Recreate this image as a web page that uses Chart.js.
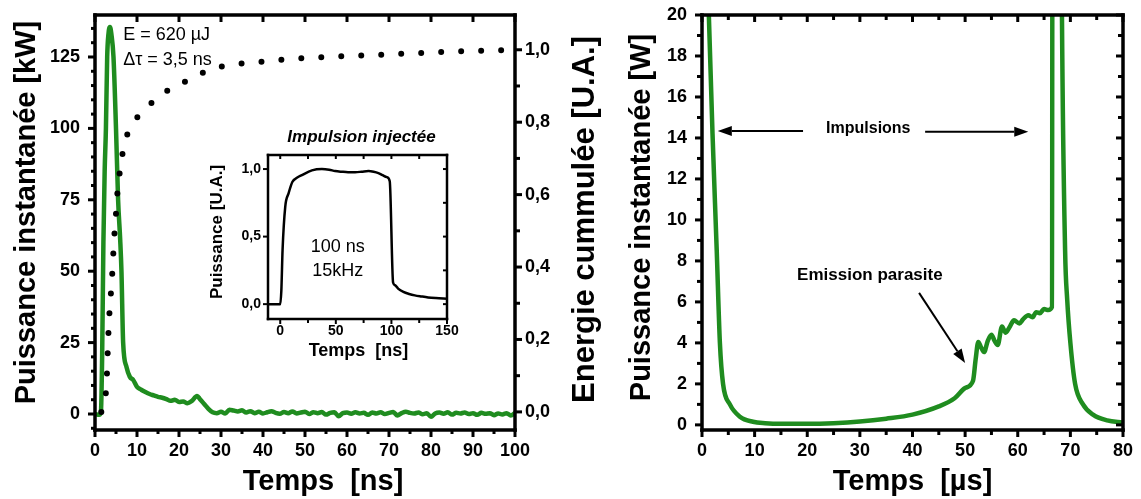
<!DOCTYPE html>
<html>
<head>
<meta charset="utf-8">
<script src="https://cdn.jsdelivr.net/npm/chart.js@4.4.1/dist/chart.umd.min.js"></script>
<style>
  html, body { margin: 0; padding: 0; background: #fff; }
  #page { position: relative; width: 1141px; height: 499px; }
  .zone { position: absolute; }
</style>
</head>
<body>
<div id="page">
  <div class="zone" style="left:0;top:0;width:620px;height:499px"><canvas id="cPic"></canvas></div>
  <div class="zone" style="left:620px;top:0;width:521px;height:499px"><canvas id="cLong"></canvas></div>
  <div class="zone" style="left:195px;top:100px;width:275px;height:270px"><canvas id="cInj"></canvas></div>
</div>
<script>
const FONTE = '"Liberation Sans", Arial, Helvetica, sans-serif';
const VERT = '#1f8c1f';

// Impulsion amplifiée : puissance crête (kW) en fonction du temps (ns)
const picTemps = [0, 1, 1.4, 1.7, 2.0, 2.3, 2.6, 2.9, 3.2, 3.57, 3.9, 4.4, 5.0, 5.5, 6.0, 6.3, 6.7, 7.5, 8.3, 9.1,
  10, 11, 12, 13, 14, 15, 16, 17, 18, 19, 20, 21, 22, 23, 24.3, 25, 26, 27, 28, 29, 30, 31, 32, 33, 34, 35,
  36, 37, 38, 39, 40, 41, 42, 43, 44, 45, 46, 47, 48, 49, 50, 51, 52, 53, 54, 55, 56, 57, 58, 59, 60,
  61, 62, 63, 64, 65, 66, 67, 68, 69, 70, 71, 72, 73, 74, 75, 76, 77, 78, 79, 80,
  81, 82, 83, 84, 85, 86, 87, 88, 89, 90, 91, 92, 93, 94, 95, 96, 97, 98, 99, 100];
const picPuissance = [0, -0.3, 0.5, 20, 60, 85, 100, 125, 133, 135.5, 133, 125, 100, 75, 61, 50, 25, 16.5, 13, 11.9,
  9.5, 8.5, 7.7, 7, 6.5, 6, 5.7, 5.2, 4.6, 5, 4.2, 4.4, 3.8, 4.5, 6.3, 5.2, 3.5, 1.8, 0.6, 0.3, 0.8, 0.2, 1.5, 1.2, 0.9, 1.3,
  0.5, 1.0, 0.3, 0.8, 0.2, 0.6, 1.0, 0.4, 0.1, 0.7, 0.3, 0.9, 0.2, 0.5, 0.8, 0.0, 0.6, 0.3, 0.7, -0.2, 0.4, 0.6, -0.8, 0.3, 0.5,
  0.1, 0.6, 0.2, 0.4, -0.3, 0.5, 0.2, 0.6, 0.0, 0.4, 0.7, -0.5, 0.3, 0.8, 0.4, 0.2, 0.5, -0.1, 0.3, -1.0,
  0.2, 0.5, 0.1, 0.6, -0.2, 0.4, 0.2, 0.5, 0.0, 0.3, -0.3, 0.4, 0.1, 0.3, -0.4, 0.2, -0.2, 0.3, -0.5, 0.4];

// Energie cumulée (U.A.)
const energieTemps = [1.5, 2.2, 2.6, 2.9, 3.1, 3.4, 3.8, 4.2, 4.5, 4.9, 5.3, 6.0, 7.0, 9.3, 12.3, 16.3, 19.5, 22.8, 27.4, 33.6,
  40, 46.6, 55, 65, 75, 85, 100];
const energieCumul = [0, 0.01, 0.055, 0.12, 0.19, 0.265, 0.33, 0.40, 0.47, 0.53, 0.60, 0.67, 0.74, 0.80, 0.84, 0.88, 0.90, 0.92, 0.945, 0.96,
  0.967, 0.975, 0.98, 0.985, 0.99, 0.995, 1.0];

// Impulsion injectée (encart)
const injTemps = [-11, 0, 1, 2.1, 4.5, 7.5, 11, 15, 19.5, 28.5, 37.5, 44, 49.4, 55.4, 61, 67.4, 73, 79.4, 84, 88.3,
  92, 95.9, 98.5, 101.5, 103.3, 106, 110.8, 116, 121, 127, 133, 140, 150];
const injPuissance = [0, 0, 0.1, 0.40, 0.72, 0.82, 0.906, 0.935, 0.955, 0.99, 1.0, 0.995, 0.985, 0.98, 0.977, 0.977, 0.98, 0.985, 0.98, 0.97,
  0.955, 0.94, 0.91, 0.16, 0.14, 0.115, 0.09, 0.075, 0.065, 0.057, 0.05, 0.045, 0.04];

// Mesure sur 80 µs : puissance (W) entre deux impulsions
const longTemps = [0, 1.3, 2.0, 2.8, 3.4, 4.0, 5.3, 7.2, 9.7, 12, 15, 20, 25, 30, 35, 40, 45, 48, 50, 51.5,
  52.0, 52.5, 53.0, 53.6, 54.3, 55.0, 55.6, 56.2, 57.0, 57.7, 58.4, 59.3, 60.3, 61.0, 62.0, 62.8, 63.5, 64.2, 65.0, 65.8,
  66.5, 66.7, 67.6, 68.4, 69.0, 69.4, 70.0, 70.9, 72.4, 74.3, 77, 80];
const longPuissance = [30, 20, 14.2, 8.5, 4.0, 2.0, 1.0, 0.4, 0.15, 0.08, 0.05, 0.05, 0.08, 0.16, 0.3, 0.5, 0.9, 1.3, 1.8, 2.15,
  3.2, 4.05, 3.8, 3.55, 4.1, 4.4, 4.1, 3.9, 4.8, 4.5, 4.75, 5.1, 4.95, 5.15, 5.35, 5.25, 5.5, 5.45, 5.65, 5.6,
  5.75, 60, 60, 20, 8.5, 6.1, 4.0, 2.0, 1.0, 0.5, 0.22, 0.12];

const points = (xs, ys) => xs.map((x, i) => ({x: x, y: ys[i]}));
const virgule = v => v.toFixed(1).replace('.', ',');

function trait(ctx, x0, y0, x1, y1, w) {
  ctx.beginPath();
  ctx.lineWidth = w;
  ctx.moveTo(x0, y0);
  ctx.lineTo(x1, y1);
  ctx.stroke();
}

// titres, textes, flèches, graduations et cadre
function cadre(cfg) {
  return {
    id: 'cadre',
    afterDraw(chart) {
      const ctx = chart.ctx;
      const a = chart.chartArea;
      ctx.save();
      ctx.setLineDash([]);
      ctx.fillStyle = '#000';
      ctx.strokeStyle = '#000';
      ctx.lineCap = 'butt';

      ctx.textBaseline = 'middle';
      cfg.titres.forEach(t => {
        const cx = (a.left + a.right) / 2, cy = (a.top + a.bottom) / 2;
        ctx.font = t.font;
        ctx.textAlign = 'center';
        ctx.save();
        if (t.ancre === 'bas') ctx.translate(cx + t.glisse, a.bottom + t.decal);
        else if (t.ancre === 'haut') ctx.translate(cx + t.glisse, a.top - t.decal);
        else if (t.ancre === 'gauche') { ctx.translate(a.left - t.decal, cy + t.glisse); ctx.rotate(-Math.PI / 2); }
        else { ctx.translate(a.right + t.decal, cy + t.glisse); ctx.rotate(-Math.PI / 2); }
        ctx.fillText(t.texte, 0, 0);
        ctx.restore();
      });

      cfg.textes.forEach(t => {
        ctx.font = t.font;
        ctx.textAlign = t.align || 'center';
        ctx.fillText(t.texte, chart.scales.x.getPixelForValue(t.x), chart.scales.y.getPixelForValue(t.y));
      });

      (cfg.fleches || []).forEach(f => {
        const x0 = chart.scales.x.getPixelForValue(f.x0), y0 = chart.scales.y.getPixelForValue(f.y0);
        const x1 = chart.scales.x.getPixelForValue(f.x1), y1 = chart.scales.y.getPixelForValue(f.y1);
        const ang = Math.atan2(y1 - y0, x1 - x0);
        const lt = 14, lg = 5;
        const bx = x1 - lt * Math.cos(ang), by = y1 - lt * Math.sin(ang);
        trait(ctx, x0, y0, bx, by, 2);
        ctx.beginPath();
        ctx.moveTo(x1, y1);
        ctx.lineTo(bx + lg * Math.sin(ang), by - lg * Math.cos(ang));
        ctx.lineTo(bx - lg * Math.sin(ang), by + lg * Math.cos(ang));
        ctx.closePath();
        ctx.fill();
      });

      cfg.graduations.forEach(g => {
        const sc = chart.scales[g.axe];
        const horiz = g.cote === 'top' || g.cote === 'bottom';
        const bord = a[g.cote];
        const dehors = (g.cote === 'left' || g.cote === 'top') ? -1 : 1;
        const sens = g.dedans ? -dehors : dehors;
        const n0 = Math.ceil(sc.min / g.pas - 1e-6), n1 = Math.floor(sc.max / g.pas + 1e-6);
        for (let n = n0; n <= n1; n++) {
          const v = n * g.pas;
          const majeure = !g.majeur || Math.abs(v / g.majeur - Math.round(v / g.majeur)) < 1e-6;
          const l = majeure ? g.long : g.court;
          const p = sc.getPixelForValue(v);
          if (horiz) trait(ctx, p, bord, p, bord + sens * l, cfg.epaisseurTick);
          else trait(ctx, bord, p, bord + sens * l, p, cfg.epaisseurTick);
        }
      });

      ctx.lineCap = 'square';
      trait(ctx, a.left, a.top, a.right, a.top, cfg.epaisseur);
      trait(ctx, a.left, a.bottom, a.right, a.bottom, cfg.epaisseur);
      trait(ctx, a.left, a.top, a.left, a.bottom, cfg.epaisseur);
      trait(ctx, a.right, a.top, a.right, a.bottom, cfg.epaisseur);
      ctx.restore();
    }
  };
}

// tailles d'axes fixées pour placer la zone de tracé
const largeur = w => s => { s.width = w; s.paddingTop = 0; s.paddingBottom = 0; };
const hauteur = h => s => { s.height = h; s.paddingLeft = 0; s.paddingRight = 0; };
const sansGrille = {display: false, drawTicks: false};
const gras = size => ({family: FONTE, size: size, weight: 'bold'});
const base = {
  responsive: true,
  maintainAspectRatio: false,
  animation: false,
  events: [],
  elements: {point: {radius: 0}},
};

// ---------- panneau de gauche ----------
new Chart(document.getElementById('cPic'), {
  type: 'line',
  data: {
    datasets: [
      {
        data: points(energieTemps, energieCumul),
        yAxisID: 'y2',
        borderColor: '#000',
        borderWidth: 6,
        borderDash: [0, 20],
        borderCapStyle: 'round',
        cubicInterpolationMode: 'monotone',
      },
      {
        data: points(picTemps, picPuissance),
        yAxisID: 'y',
        borderColor: VERT,
        borderWidth: 4.5,
        cubicInterpolationMode: 'monotone',
      },
    ],
  },
  options: {
    ...base,
    layout: {padding: {top: 15, left: 0, right: 0, bottom: 0}},
    scales: {
      x: {
        type: 'linear', min: 0, max: 100,
        grid: sansGrille, border: {display: false},
        ticks: {stepSize: 10, color: '#000', font: gras(18), padding: 10, maxRotation: 0},
        afterFit: hauteur(69),
      },
      y: {
        position: 'left', min: -5.6, max: 139.7,
        grid: sansGrille, border: {display: false},
        ticks: {stepSize: 25, includeBounds: false, color: '#000', font: gras(18), padding: 15},
        afterFit: largeur(95),
      },
      y2: {
        position: 'right', min: -0.05, max: 1.096,
        grid: sansGrille, border: {display: false},
        ticks: {stepSize: 0.2, includeBounds: false, color: '#000', font: gras(18), padding: 10, callback: virgule},
        afterFit: largeur(105),
      },
    },
    plugins: {legend: {display: false}, tooltip: {enabled: false}},
  },
  plugins: [cadre({
    epaisseur: 3.5, epaisseurTick: 3,
    graduations: [
      {axe: 'y', cote: 'left', pas: 5, majeur: 25, long: 7, court: 4},
      {axe: 'x', cote: 'bottom', pas: 5, majeur: 10, long: 7, court: 4},
      {axe: 'x', cote: 'top', pas: 10, dedans: true, long: 7, court: 4},
      {axe: 'y2', cote: 'right', pas: 0.1, majeur: 0.2, long: 7, court: 5},
    ],
    titres: [
      {texte: 'Temps  [ns]', font: 'bold 29px ' + FONTE, ancre: 'bas', decal: 52, glisse: 18},
      {texte: 'Puissance instantanée [kW]', font: 'bold 29px ' + FONTE, ancre: 'gauche', decal: 68, glisse: -10},
      {texte: 'Energie cummulée [U.A.]', font: 'bold 31px ' + FONTE, ancre: 'droite', decal: 70, glisse: -3},
    ],
    textes: [
      {texte: 'E = 620 µJ', x: 6.7, y: 132.7, align: 'left', font: '18px ' + FONTE},
      {texte: 'Δτ = 3,5 ns', x: 6.7, y: 124, align: 'left', font: '18px ' + FONTE},
    ],
  })],
});

// ---------- encart : impulsion injectée ----------
new Chart(document.getElementById('cInj'), {
  type: 'line',
  data: {
    datasets: [{
      data: points(injTemps, injPuissance),
      borderColor: '#000',
      borderWidth: 2.5,
      cubicInterpolationMode: 'monotone',
    }],
  },
  options: {
    ...base,
    layout: {padding: {top: 55, left: 0, right: 23, bottom: 0}},
    scales: {
      x: {
        type: 'linear', min: -11, max: 150,
        grid: sansGrille, border: {display: false},
        ticks: {stepSize: 50, includeBounds: false, color: '#000', font: gras(14), padding: 4, maxRotation: 0},
        afterFit: hauteur(51),
      },
      y: {
        min: -0.11, max: 1.104,
        grid: sansGrille, border: {display: false},
        ticks: {stepSize: 0.5, includeBounds: false, color: '#000', font: gras(14), padding: 7, callback: virgule},
        afterFit: largeur(73),
      },
    },
    plugins: {legend: {display: false}, tooltip: {enabled: false}},
  },
  plugins: [cadre({
    epaisseur: 2.5, epaisseurTick: 2,
    graduations: [
      {axe: 'y', cote: 'left', pas: 0.5, long: 5, court: 3},
      {axe: 'y', cote: 'right', pas: 0.25, dedans: true, long: 4, court: 4},
      {axe: 'x', cote: 'bottom', pas: 25, majeur: 50, long: 5, court: 4},
      {axe: 'x', cote: 'top', pas: 25, dedans: true, long: 4, court: 4},
    ],
    titres: [
      {texte: 'Impulsion injectée', font: 'italic bold 17px ' + FONTE, ancre: 'haut', decal: 18, glisse: 4},
      {texte: 'Temps  [ns]', font: 'bold 18px ' + FONTE, ancre: 'bas', decal: 32, glisse: 1},
      {texte: 'Puissance [U.A.]', font: 'bold 17px ' + FONTE, ancre: 'gauche', decal: 51, glisse: -5},
    ],
    textes: [
      {texte: '100 ns', x: 51.7, y: 0.422, font: '18px ' + FONTE},
      {texte: '15kHz', x: 51.7, y: 0.248, font: '18px ' + FONTE},
    ],
  })],
});

// ---------- panneau de droite ----------
new Chart(document.getElementById('cLong'), {
  type: 'line',
  data: {
    datasets: [{
      data: points(longTemps, longPuissance),
      borderColor: VERT,
      borderWidth: 4.5,
      cubicInterpolationMode: 'monotone',
    }],
  },
  options: {
    ...base,
    layout: {padding: {top: 15, left: 0, right: 18, bottom: 0}},
    scales: {
      x: {
        type: 'linear', min: 0, max: 80,
        grid: sansGrille, border: {display: false},
        ticks: {stepSize: 10, color: '#000', font: gras(18), padding: 10, maxRotation: 0},
        afterFit: hauteur(69),
      },
      y: {
        min: -0.25, max: 20,
        grid: sansGrille, border: {display: false},
        ticks: {stepSize: 2, includeBounds: false, color: '#000', font: gras(18), padding: 15},
        afterFit: largeur(82),
      },
    },
    plugins: {legend: {display: false}, tooltip: {enabled: false}},
  },
  plugins: [cadre({
    epaisseur: 3.5, epaisseurTick: 3,
    graduations: [
      {axe: 'y', cote: 'left', pas: 1, majeur: 2, long: 7, court: 5},
      {axe: 'y', cote: 'right', pas: 1, majeur: 2, dedans: true, long: 7, court: 5},
      {axe: 'x', cote: 'bottom', pas: 5, majeur: 10, long: 7, court: 5},
      {axe: 'x', cote: 'top', pas: 5, majeur: 10, dedans: true, long: 7, court: 5},
    ],
    titres: [
      {texte: 'Temps  [µs]', font: 'bold 29px ' + FONTE, ancre: 'bas', decal: 52, glisse: 0},
      {texte: 'Puissance instantanée [W]', font: 'bold 29px ' + FONTE, ancre: 'gauche', decal: 60, glisse: -5},
    ],
    textes: [
      {texte: 'Impulsions', x: 31.6, y: 14.44, font: 'bold 16px ' + FONTE},
      {texte: 'Emission parasite', x: 31.9, y: 7.32, font: 'bold 17px ' + FONTE},
    ],
    fleches: [
      {x0: 19.2, y0: 14.34, x1: 3.0, y1: 14.34},
      {x0: 42.4, y0: 14.3, x1: 62.0, y1: 14.3},
      {x0: 41.25, y0: 6.44, x1: 50.0, y1: 3.02},
    ],
  })],
});
</script>
</body>
</html>
